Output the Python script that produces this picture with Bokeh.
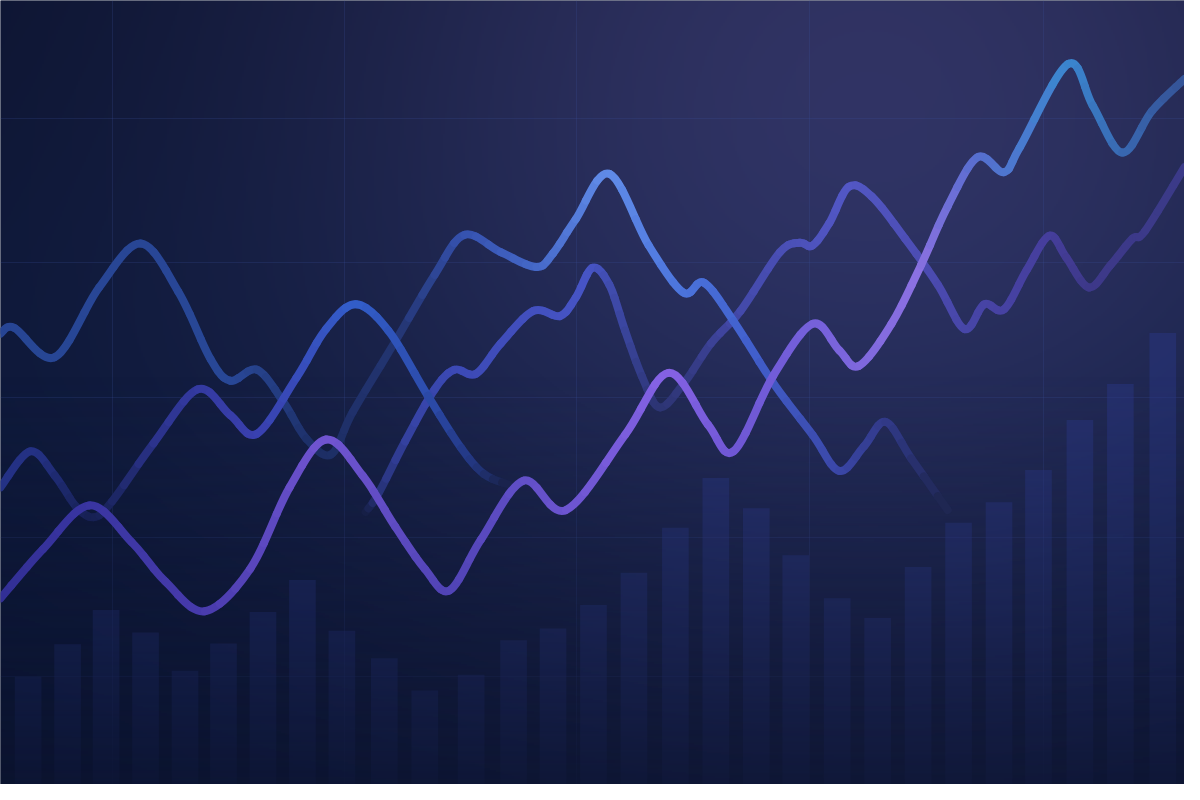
import numpy as np
from bokeh.plotting import figure
from bokeh.models import ColumnDataSource, FixedTicker, Range1d
from bokeh.embed import file_html
from bokeh.resources import INLINE

# ---------------- data (x: time 0-120, y: value 0-100) ----------------
bar_x = [2.8, 6.8, 10.7, 14.7, 18.7, 22.6, 26.6, 30.6, 34.6, 38.9, 43.0, 47.7, 52.0, 56.0, 60.1,
         64.2, 68.4, 72.5, 76.6, 80.6, 84.8, 88.9, 93.0, 97.1, 101.2, 105.2, 109.4, 113.5, 117.8]
bar_v = [13.75, 17.9, 22.25, 19.4, 14.5, 18.0, 22.0, 26.1, 19.6, 16.1, 12.0, 14.0, 18.4, 19.9, 22.9,
         27.0, 32.75, 39.1, 35.25, 29.25, 23.75, 21.25, 27.75, 33.4, 36.0, 40.1, 46.5, 51.1, 57.6]

p_x = [0, 1.4, 5.5, 10.0, 14.2, 18.0, 21.3, 23.3, 26.0, 28.7, 31.0, 33.5, 35.7, 40.0, 44.0, 47.0,
       50.7, 54.3, 56.0, 58.3, 61.7, 65.7, 69.2, 71.3, 74.3, 78.3, 82.3, 85.0, 87.5, 89.7, 92.3, 96.0]
p_y = [57.5, 58.25, 54.5, 63.4, 69.0, 62.9, 54.25, 51.5, 52.9, 48.75, 44.1, 42.1, 47.5, 56.5, 65.0, 70.1,
       67.9, 66.0, 67.75, 72.1, 77.9, 68.75, 62.75, 64.0, 59.1, 51.25, 44.6, 40.0, 43.1, 46.25, 41.6, 35.0]

q_x = [0, 3.0, 5.5, 7.7, 9.5, 11.3, 15.5, 20.0, 23.3, 26.0, 30.0, 33.0, 36.0, 39.3, 43.3, 46.7, 49.0, 51.5]
q_y = [37.9, 42.5, 39.4, 35.4, 34.1, 36.1, 43.5, 50.4, 47.1, 44.75, 51.9, 58.1, 61.25, 57.9, 49.6, 42.9, 39.6, 38.25]

r_x = [37.0, 38.3, 41.0, 44.0, 46.0, 48.2, 50.7, 54.0, 56.7, 58.3, 60.0, 61.7, 63.3, 65.0, 66.8, 69.3,
       72.0, 75.0, 79.0, 81.0, 82.3, 84.0, 86.0, 88.3, 91.7, 95.0, 97.7, 99.7, 101.7, 104.0, 106.3, 108.0,
       110.3, 112.5, 114.7, 116.0, 120.0]
r_y = [34.75, 37.1, 43.75, 50.4, 52.9, 52.4, 56.25, 60.4, 59.75, 62.1, 65.9, 63.75, 57.9, 52.1, 48.1, 51.25,
       56.25, 60.4, 67.9, 69.1, 68.75, 71.6, 76.25, 75.0, 69.6, 63.75, 58.1, 61.25, 60.6, 65.6, 70.0, 67.25,
       63.4, 66.25, 69.6, 70.6, 78.75]

s_x = [0, 4.3, 9.0, 13.3, 16.7, 20.7, 25.3, 29.3, 33.0, 36.7, 40.0, 43.0, 45.5, 48.7, 53.0, 57.3, 63.3,
       67.7, 71.7, 74.3, 78.3, 82.3, 85.0, 87.0, 90.3, 93.3, 96.0, 99.0, 101.7, 103.3, 108.2, 110.7, 113.7,
       116.7, 120.0]
s_y = [23.75, 30.0, 35.6, 30.9, 25.9, 22.1, 27.5, 37.9, 44.0, 39.4, 32.9, 27.5, 24.75, 31.25, 38.75, 35.0,
       44.6, 52.5, 45.9, 42.5, 52.1, 58.75, 55.4, 53.4, 58.75, 66.25, 73.75, 80.0, 78.1, 81.25, 91.9, 86.6,
       80.6, 85.9, 90.0]

# ---------------- styles (colour stops along x, kept apart from the data) ----------------
p_style = [(0, (50, 90, 190), 0.68), (24, (50, 90, 190), 0.68), (28.5, (50, 90, 190), 0.48),
           (32, (50, 90, 195), 0.26), (40, (55, 92, 200), 0.30), (45, (58, 94, 203), 0.60),
           (47, (60, 95, 205), 0.75), (54.5, (75, 115, 220), 0.85), (61.7, (100, 145, 240), 0.95),
           (69, (80, 125, 235), 0.90), (76, (70, 105, 225), 0.85), (85, (70, 85, 205), 0.70),
           (89.7, (65, 75, 190), 0.50), (92.3, (62, 72, 185), 0.32), (96, (60, 70, 180), 0.0)]
q_style = [(0, (50, 65, 180), 0.62), (4, (50, 65, 180), 0.60), (6.5, (50, 65, 185), 0.38),
           (9.5, (55, 65, 190), 0.18), (12, (58, 66, 192), 0.33), (16, (62, 68, 196), 0.58),
           (20, (65, 70, 200), 0.70), (26, (70, 75, 210), 0.75), (36, (55, 105, 225), 0.85),
           (43.3, (50, 90, 205), 0.75), (48, (45, 75, 185), 0.50), (51.5, (45, 75, 185), 0.0)]
r_style = [(37, (70, 85, 215), 0.0), (38.6, (70, 85, 215), 0.38), (42, (70, 85, 215), 0.65),
           (46, (70, 85, 215), 0.75), (60, (80, 95, 225), 0.80), (63.5, (80, 95, 225), 0.48),
           (66.8, (82, 92, 222), 0.22), (70, (85, 90, 220), 0.32), (75, (85, 90, 220), 0.60),
           (86, (95, 100, 230), 0.75), (97.7, (85, 80, 200), 0.70), (106.3, (85, 70, 190), 0.65),
           (110.3, (80, 65, 175), 0.55), (120, (75, 70, 175), 0.55)]
s_style = [(0, (70, 60, 200), 0.65), (9, (75, 65, 205), 0.70), (20.5, (90, 70, 210), 0.75),
           (33, (130, 95, 235), 0.85), (45.5, (100, 80, 220), 0.75), (53, (115, 90, 230), 0.80),
           (67.7, (145, 105, 245), 0.90), (74.5, (125, 95, 235), 0.85), (82.3, (130, 105, 240), 0.85),
           (93, (150, 120, 240), 0.90), (99, (95, 120, 225), 0.85), (108.2, (60, 145, 220), 0.90),
           (113.7, (60, 120, 200), 0.80), (120, (60, 105, 185), 0.65)]

X0, X1, Y0, Y1 = 0.0, 120.0, 0.0, 100.0


def bg_rgb(X, Y):
    px = np.asarray(X) * 10.0
    py = (100.0 - np.asarray(Y)) * 8.0
    t = np.exp(-((px - 880.0) / 600.0) ** 2 - ((py - 60.0) / 520.0) ** 2)
    mid = np.exp(-((py - 400.0) / 300.0) ** 2)
    r = 10 + 38 * t + 2 * mid
    g = 18 + 32 * t + 5 * mid
    b = 45 + 52 * t + 10 * mid
    return r, g, b


def make_image(alpha_fn=None, nx=600, ny=400):
    xs = (np.arange(nx) + 0.5) * (X1 - X0) / nx + X0
    ys = (np.arange(ny) + 0.5) * (Y1 - Y0) / ny + Y0
    XX, YY = np.meshgrid(xs, ys)
    r, g, b = bg_rgb(XX, YY)
    img = np.zeros((ny, nx), dtype=np.uint32)
    v = img.view(dtype=np.uint8).reshape((ny, nx, 4))
    v[:, :, 0] = np.clip(r, 0, 255).astype(np.uint8)
    v[:, :, 1] = np.clip(g, 0, 255).astype(np.uint8)
    v[:, :, 2] = np.clip(b, 0, 255).astype(np.uint8)
    if alpha_fn is None:
        v[:, :, 3] = 255
    else:
        v[:, :, 3] = np.clip(alpha_fn(YY) * 255, 0, 255).astype(np.uint8)
    return img


def fade_alpha(Y):
    py = (100.0 - Y) * 8.0
    return np.clip((py - 380.0) / 420.0, 0, 1) ** 1.2 * 0.9


def to_hex(r, g, b):
    return "#%02x%02x%02x" % (int(round(r)), int(round(g)), int(round(b)))


def split(P0, P1, P2, P3, t):
    # de Casteljau split of one cubic into the part [0, t] and the rest
    A = P0 + (P1 - P0) * t
    B = P1 + (P2 - P1) * t
    C = P2 + (P3 - P2) * t
    D = A + (B - A) * t
    E = B + (C - B) * t
    F = D + (E - D) * t
    return (P0, A, D, F), (F, E, C, P3)


def bezier_source(xs, ys, style, pieces=3):
    xs = np.asarray(xs, float)
    ys = np.asarray(ys, float)
    n = len(xs)
    xp = np.concatenate([[xs[0]], xs, [xs[-1]]])
    yp = np.concatenate([[ys[0]], ys, [ys[-1]]])
    segs = []
    for i in range(n - 1):
        P0 = np.array([xp[i + 1], yp[i + 1]])
        P3 = np.array([xp[i + 2], yp[i + 2]])
        P1 = P0 + (np.array([xp[i + 2], yp[i + 2]]) - np.array([xp[i], yp[i]])) / 6.0
        P2 = P3 - (np.array([xp[i + 3], yp[i + 3]]) - np.array([xp[i + 1], yp[i + 1]])) / 6.0
        cur = (P0, P1, P2, P3)
        for k in range(pieces, 1, -1):
            a, cur = split(*cur, 1.0 / k)
            segs.append(a)
        segs.append(cur)
    sx = [s[0] for s in style]
    chans = [[s[1][c] for s in style] for c in range(3)]
    sa = [s[2] for s in style]
    d = dict(x0=[], y0=[], x1=[], y1=[], cx0=[], cy0=[], cx1=[], cy1=[], color=[])
    for (A, B, C, D) in segs:
        mx = (A[0] + D[0]) / 2.0
        my = (A[1] + D[1]) / 2.0
        a = float(np.interp(mx, sx, sa))
        cr, cg, cb = (float(np.interp(mx, sx, ch)) for ch in chans)
        br, bg_, bb = bg_rgb(mx, my)
        d["color"].append(to_hex(br * (1 - a) + cr * a, bg_ * (1 - a) + cg * a, bb * (1 - a) + cb * a))
        d["x0"].append(A[0]); d["y0"].append(A[1])
        d["cx0"].append(B[0]); d["cy0"].append(B[1])
        d["cx1"].append(C[0]); d["cy1"].append(C[1])
        d["x1"].append(D[0]); d["y1"].append(D[1])
    return ColumnDataSource(d)


p = figure(width=1184, height=784, x_range=Range1d(X0, X1), y_range=Range1d(Y0, Y1),
           output_backend="svg", toolbar_location=None, min_border=0,
           outline_line_color=None, background_fill_color="#0b1430",
           border_fill_color="#0b1430")
p.xaxis.visible = False
p.yaxis.visible = False

# background gradient
p.image_rgba(image=[make_image()], x=X0, y=Y0, dw=X1 - X0, dh=Y1 - Y0, level="image")

# grid
p.xgrid.ticker = FixedTicker(ticks=[11.4, 34.9, 58.4, 82.0, 105.7])
p.ygrid.ticker = FixedTicker(ticks=[85.0, 66.6, 49.4, 31.5, 13.75])
for g in (p.xgrid, p.ygrid):
    g.grid_line_color = "#3c50a0"
    g.grid_line_alpha = 0.22
    g.grid_line_width = 1

# bars
p.vbar(x=bar_x, top=bar_v, bottom=0, width=2.7, fill_color="#2a3a8c", fill_alpha=0.42, line_color=None)

# fade of the lower part
p.image_rgba(image=[make_image(fade_alpha)], x=X0, y=Y0, dw=X1 - X0, dh=Y1 - Y0)

# lines (drawing order decides which one is on top at crossings)
for xs, ys, st in ((r_x, r_y, r_style), (p_x, p_y, p_style), (q_x, q_y, q_style), (s_x, s_y, s_style)):
    src = bezier_source(xs, ys, st)
    p.bezier(x0="x0", y0="y0", x1="x1", y1="y1", cx0="cx0", cy0="cy0", cx1="cx1", cy1="cy1",
             source=src, line_color="color", line_width=8, line_cap="round")

open("out.html", "w").write(file_html(p, INLINE))
